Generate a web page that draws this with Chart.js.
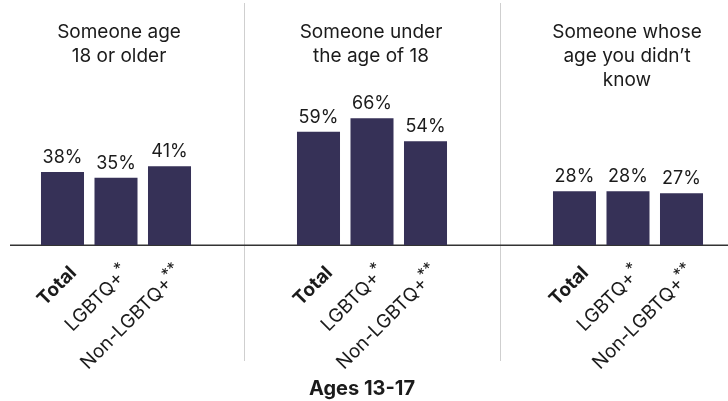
<!DOCTYPE html>
<html>
<head>
<meta charset="utf-8">
<script src="https://cdn.jsdelivr.net/npm/chart.js@4/dist/chart.umd.min.js"></script>
<style>
  html, body { margin: 0; padding: 0; background: #fff; }
  #wrap { position: relative; width: 728px; height: 401px; overflow: hidden; }
  #c { position: absolute; left: -12px; top: 0; }
</style>
</head>
<body>
<div id="wrap"><canvas id="c" width="768" height="401"></canvas></div>
<script>
// ---- data ----
const panelTitles = [
  ["Someone age", "18 or older"],
  ["Someone under", "the age of 18"],
  ["Someone whose", "age you didn\u2019t", "know"]
];
const groupNames = ["Total", "LGBTQ+", "Non-LGBTQ+"];
const groupMarks = ["", "*", "**"];
const totalValues = [38, 59, 28];
const lgbtqValues = [35, 66, 28];
const nonLgbtqValues = [41, 54, 27];
const bottomTitle = "Ages 13-17";

const BAR = "#363157";
const TEXT = "#1b1b1b";
const FONT = "Inter, 'Open Sans', sans-serif";

const seriesValues = [totalValues, lgbtqValues, nonLgbtqValues];

const overlay = {
  id: "overlay",
  beforeDatasetsDraw(chart) {
    const ctx = chart.ctx;
    const xs = chart.scales.x, ys = chart.scales.y;
    const y0 = Math.round(ys.getPixelForValue(0));
    ctx.save();
    // dividers between panels
    ctx.strokeStyle = "#cfcfcf";
    ctx.lineWidth = 1;
    for (let i = 0; i < panelTitles.length - 1; i++) {
      const bx = Math.round((xs.getPixelForValue(i) + xs.getPixelForValue(i + 1)) / 2) + 0.5;
      ctx.beginPath();
      ctx.moveTo(bx, 3);
      ctx.lineTo(bx, 361);
      ctx.stroke();
    }
    // baseline axis
    ctx.strokeStyle = "#333";
    ctx.lineWidth = 1.5;
    ctx.beginPath();
    ctx.moveTo(22, y0 + 0.25);
    ctx.lineTo(chart.width, y0 + 0.25);
    ctx.stroke();
    ctx.restore();
  },
  afterDatasetsDraw(chart) {
    const ctx = chart.ctx;
    const xs = chart.scales.x;
    ctx.save();
    ctx.fillStyle = TEXT;
    // panel titles
    ctx.font = "19px " + FONT;
    ctx.textAlign = "center";
    ctx.textBaseline = "alphabetic";
    panelTitles.forEach((lines, i) => {
      const cx = xs.getPixelForValue(i) + (i === 0 ? 3 : -1);
      lines.forEach((t, j) => ctx.fillText(t, cx, 38 + 24 * j));
    });
    // value labels and rotated category labels
    chart.data.datasets.forEach((ds, di) => {
      const meta = chart.getDatasetMeta(di);
      meta.data.forEach((el, i) => {
        ctx.font = "18px " + FONT;
        ctx.textAlign = "center";
        ctx.textBaseline = "alphabetic";
        ctx.fillText(ds.data[i] + "%", el.x, el.y - 9);

        ctx.save();
        ctx.translate(el.x + 2, 261);
        ctx.rotate(-Math.PI / 4);
        ctx.textAlign = "right";
        ctx.textBaseline = "top";
        const mark = groupMarks[di];
        let offset = 0;
        if (mark) {
          ctx.font = "16px " + FONT;
          offset = ctx.measureText(mark).width;
          ctx.fillText(mark, 0, -2);
        }
        ctx.font = (di === 0 ? "bold " : "") + "19px " + FONT;
        ctx.fillText(groupNames[di], -offset, 3);
        ctx.restore();
      });
    });
    // bottom title
    ctx.font = "bold 20px " + FONT;
    ctx.textAlign = "center";
    ctx.textBaseline = "alphabetic";
    ctx.fillText(bottomTitle, 374, 395);
    ctx.restore();
  }
};

new Chart(document.getElementById("c"), {
  type: "bar",
  data: {
    labels: panelTitles.map(l => l.join(" ")),
    datasets: groupNames.map((g, k) => ({
      label: g,
      data: seriesValues[k],
      backgroundColor: BAR,
      borderWidth: 0,
      categoryPercentage: 0.627,
      barPercentage: 0.804
    }))
  },
  options: {
    responsive: false,
    animation: false,
    layout: { padding: 0 },
    plugins: { legend: { display: false }, tooltip: { enabled: false } },
    scales: {
      x: { display: false },
      y: { display: false, min: -81.25, max: 127.6 }
    }
  },
  plugins: [overlay]
});
</script>
</body>
</html>
